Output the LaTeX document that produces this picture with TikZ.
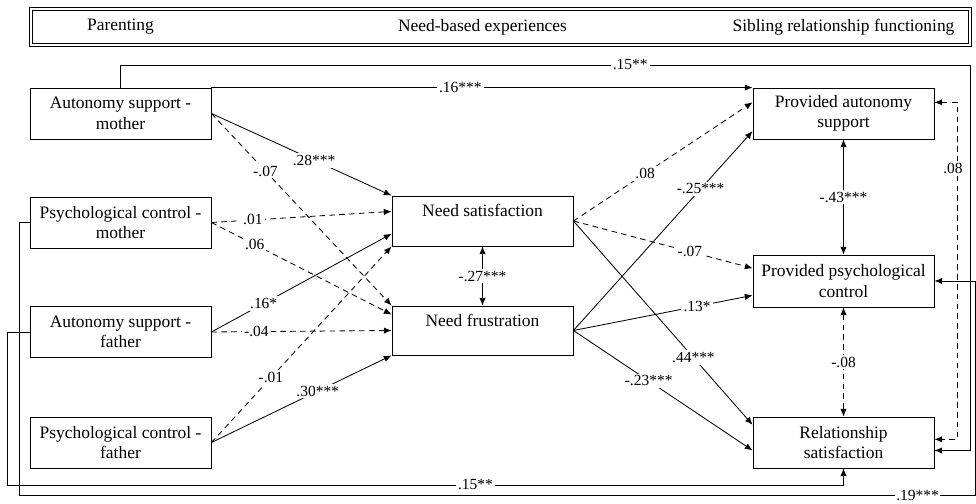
\documentclass[tikz,border=0pt]{standalone}
\usepackage{fontspec}
\setmainfont{Liberation Serif}
\usetikzlibrary{arrows.meta}
\begin{document}
\begin{tikzpicture}[x=0.025cm, y=-0.025cm, font=\fontsize{12.4}{14.6}\selectfont,
    box/.style={draw, line width=0.6pt, minimum width=4.525cm, minimum height=1.275cm, align=center, inner sep=0pt},
    arr/.style={line width=0.6pt, -{Latex[length=5.5pt,width=4.5pt]}},
    dsh/.style={arr, dash pattern=on 4pt off 3pt},
    both/.style={line width=0.6pt, {Latex[length=5.5pt,width=4.5pt]}-{Latex[length=5.5pt,width=4.5pt]}},
    lbl/.style={fill=white, inner sep=1.5pt, font=\fontsize{11}{13}\selectfont}]
  \useasboundingbox (0,0) rectangle (976,504);

  \node[draw, double, double distance=1.6pt, line width=0.6pt, minimum width=23.475cm, minimum height=0.9cm, inner sep=0pt] (hdr) at (500.5,27) {};
  \node (hpar) at (120.5,27) {Parenting};
  \node (hneed) at (482.5,27) {Need-based experiences};
  \node (hsib) at (843.5,27) {Sibling relationship functioning};

  \node[box] (asm) at (120.5,113.5) {Autonomy support -\\mother};
  \node[box] (pcm) at (120.5,222.5) {Psychological control -\\mother};
  \node[box] (asf) at (120.5,332) {Autonomy support -\\father};
  \node[box] (pcf) at (120.5,442.5) {Psychological control -\\father};
  \node[box, minimum height=1.25cm] (ns) at (482.5,221) {Need satisfaction\\\mbox{}};
  \node[box, minimum height=1.225cm] (nf) at (482.5,330.5) {Need frustration\\\mbox{}};
  \node[box] (pas) at (843.5,113.5) {Provided autonomy\\support};
  \node[box, minimum height=1.3cm] (ppc) at (843.5,281) {Provided psychological\\control};
  \node[box] (rs) at (843.5,442.5) {Relationship\\satisfaction};

  \coordinate (topr) at (970,65);
  \coordinate (dashr) at (957,300);
  \coordinate (midl) at (7,485);
  \coordinate (botl) at (19,495);
  \coordinate (botr) at (975,495);

  \foreach \a/\b/\l/\p in {asm.east/ns.north west/.28***/.57, asf.east/ns.188/.16*/.29,
      pcf.east/nf.south west/.30***/.59, asm.north east/pas.north west/.16***/.46,
      ns.east/rs.169/.44***/.67, nf.east/pas.191/-.25***/.71,
      nf.east/ppc.189/.13*/.69, nf.east/rs.185/-.23***/.42}
    {\draw[arr] (\a) -- node[lbl, pos=\p] {\l} (\b);}

  \foreach \a/\b/\l/\p in {asm.east/nf.north west/-.07/.3, pcm.east/ns.174/.01/.23,
      pcm.east/nf.170/.06/.24, asf.east/nf.west/-.04/.25, pcf.east/ns.south west/-.01/.33,
      ns.east/pas.173/.08/.4, ns.east/ppc.172/-.07/.65}
    {\draw[dsh] (\a) -- node[lbl, pos=\p] {\l} (\b);}

  \draw[both] (ns.south) -- node[lbl] {-.27***} (nf.north);
  \draw[both] (pas.south) -- node[lbl] {-.43***} (ppc.north);
  \draw[both, dash pattern=on 4pt off 3pt] (ppc.south) -- node[lbl] {-.08} (rs.north);

  \draw[arr] (asm.north) |- node[lbl, pos=.8] {.15**} (topr) |- (rs.-5);
  \draw[both, dash pattern=on 4pt off 3pt] (pas.7) -| node[lbl, pos=.667, xshift=-0.1cm] {.08} (dashr) |- (rs.2);
  \draw[arr] (asf.west) -| (midl) -| node[lbl, pos=.28] {.15**} (rs.south);
  \draw[arr] (pcm.west) -| (botl) -- node[lbl, pos=.94, inner sep=0.8pt] {.19***} (botr) |- (ppc.east);
\end{tikzpicture}
\end{document}
